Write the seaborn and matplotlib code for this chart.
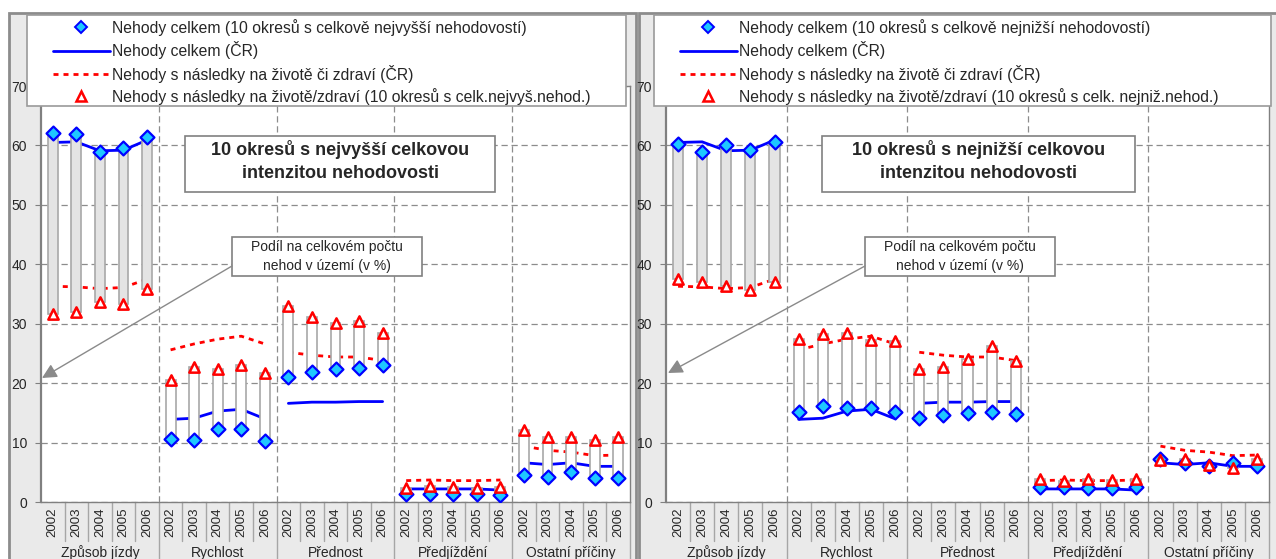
import numpy as np
import pandas as pd
import matplotlib
matplotlib.use("Agg")
import matplotlib.pyplot as plt
import seaborn as sns
from matplotlib.patches import Rectangle, FancyArrowPatch
from matplotlib.lines import Line2D
from matplotlib.transforms import blended_transform_factory

# --- data (podíl na celkovém počtu nehod v území, %) ---
years = ["2002", "2003", "2004", "2005", "2006"]
groups = ["Způsob jízdy", "Rychlost", "Přednost", "Předjíždění", "Ostatní příčiny"]

# ČR - same in both panels
cr_total = [60.5, 60.6, 59.1, 59.2, 60.9,
            13.9, 14.1, 15.3, 15.6, 14.0,
            16.6, 16.8, 16.8, 16.9, 16.9,
            2.2, 2.2, 2.2, 2.2, 2.0,
            6.6, 6.3, 6.6, 6.0, 6.0]
cr_injury = [36.3, 36.2, 35.9, 36.1, 37.5,
             25.6, 26.6, 27.4, 27.9, 26.6,
             25.2, 24.7, 24.4, 24.4, 23.8,
             3.6, 3.7, 3.6, 3.6, 3.7,
             9.4, 8.7, 8.4, 7.8, 7.9]

# 10 okresů s nejvyšší intenzitou
high_total = [62.1, 62.0, 58.9, 59.5, 61.4,
              10.6, 10.4, 12.3, 12.3, 10.3,
              21.1, 21.9, 22.4, 22.6, 23.0,
              1.3, 1.4, 1.4, 1.3, 1.1,
              4.6, 4.2, 5.0, 4.1, 4.1]
high_injury = [31.7, 31.9, 33.6, 33.3, 35.9,
               20.5, 22.7, 22.3, 23.0, 21.7,
               33.0, 31.2, 30.1, 30.5, 28.4,
               2.3, 2.7, 2.5, 2.3, 2.6,
               12.1, 10.9, 11.0, 10.4, 11.0]

# 10 okresů s nejnižší intenzitou
low_total = [60.2, 58.9, 60.0, 59.2, 60.5,
             15.2, 16.2, 15.8, 15.8, 15.2,
             14.1, 14.6, 14.9, 15.2, 14.8,
             2.6, 2.5, 2.3, 2.4, 2.5,
             7.2, 6.6, 6.0, 6.5, 6.1]
low_injury = [37.5, 37.0, 36.4, 35.6, 37.1,
              27.5, 28.2, 28.5, 27.3, 27.1,
              22.4, 22.8, 24.0, 26.3, 23.7,
              3.9, 3.6, 3.8, 3.7, 3.9,
              7.1, 7.2, 6.2, 5.7, 7.2]

labels_high = ["Nehody celkem (10 okresů s celkově nejvyšší nehodovostí)",
               "Nehody celkem (ČR)",
               "Nehody s následky na životě či zdraví (ČR)",
               "Nehody s následky na životě/zdraví (10 okresů s celk.nejvyš.nehod.)"]
labels_low = ["Nehody celkem (10 okresů s celkově nejnižší nehodovostí)",
              "Nehody celkem (ČR)",
              "Nehody s následky na životě či zdraví (ČR)",
              "Nehody s následky na životě/zdraví (10 okresů s celk. nejniž.nehod.)"]

sns.set_style("white")
plt.rcParams["font.family"] = ["Liberation Sans", "DejaVu Sans"]

W, H = 1276, 559
fig = plt.figure(figsize=(W / 100, H / 100), dpi=100)
fig.patch.set_facecolor("white")


def frac(x0, y0, x1, y1):
    # pixel box (top-left origin) -> figure fraction [l, b, w, h]
    return [x0 / W, 1 - y1 / H, (x1 - x0) / W, (y1 - y0) / H]


def fig_rect(x0, y0, x1, y1, fc, ec, lw, z):
    l, b, w, h = frac(x0, y0, x1, y1)
    fig.patches.append(Rectangle((l, b), w, h, transform=fig.transFigure,
                                 facecolor=fc, edgecolor=ec, lw=lw, zorder=z))


blue = "#0000ff"
red = "#ff0000"
cyan = "#1ec8ff"
dash_red = (0, (1.8, 1.8))
grid_ls = (0, (5, 3))


def draw_panel(ax, totals, injuries):
    df = pd.DataFrame({
        "pos": np.arange(25),
        "group": np.repeat(groups, 5),
        "cr_total": cr_total,
        "cr_injury": cr_injury,
        "total": totals,
        "injury": injuries,
    })
    ax.set_facecolor("white")
    ax.set_xlim(-0.5, 24.5)
    ax.set_ylim(0, 70)
    ax.set_yticks(range(0, 71, 10))
    ax.yaxis.grid(True, color="#8c8c8c", linestyle=grid_ls, lw=0.9)
    for s in [4.5, 9.5, 14.5, 19.5]:
        ax.axvline(s, color="#8c8c8c", linestyle=grid_ls, lw=0.9, zorder=1)
    ax.set_axisbelow(True)

    sns.lineplot(data=df, x="pos", y="cr_total", units="group", estimator=None,
                 color=blue, lw=2, ax=ax, zorder=2, legend=False)
    sns.lineplot(data=df, x="pos", y="cr_injury", units="group", estimator=None,
                 color=red, lw=2, linestyle=dash_red, ax=ax, zorder=2, legend=False)

    lo = df[["total", "injury"]].min(axis=1)
    hi = df[["total", "injury"]].max(axis=1)
    fills = np.where(df["total"] > df["injury"], "#e4e4e4", "white")
    ax.bar(df["pos"], hi - lo, bottom=lo, width=0.42, color=fills,
           edgecolor="#a8a8a8", lw=1.2, zorder=3)

    sns.scatterplot(data=df, x="pos", y="total", marker="D", s=50, color=cyan,
                    edgecolor=blue, linewidth=1.6, ax=ax, zorder=4, legend=False)
    sns.scatterplot(data=df, x="pos", y="injury", marker="^", s=55, color="white",
                    edgecolor=red, linewidth=1.8, ax=ax, zorder=5, legend=False)

    ax.set_xlabel("")
    ax.set_ylabel("")
    ax.set_xticks(range(25))
    ax.set_xticklabels(years * 5, rotation=90, fontsize=9.5)
    ax.tick_params(axis="x", length=0, pad=4)
    ax.tick_params(axis="y", left=True, length=4, color="#808080", labelsize=10, pad=6)
    for sp in ax.spines.values():
        sp.set_color("#808080")
        sp.set_linewidth(1)
    ax.spines["left"].set_linewidth(1.6)

    trans = blended_transform_factory(ax.transData, ax.transAxes)
    for i, g in enumerate(groups):
        ax.text(i * 5 + 2, -0.122, g, transform=trans, ha="center", va="center", fontsize=10)
    for k in range(1, 26):
        bottom = -0.2 if k % 5 == 0 else -0.094
        ax.plot([k - 0.5, k - 0.5], [0, bottom], transform=trans, color="#a6a6a6",
                lw=1, clip_on=False, zorder=1)


# panel frames
fig_rect(9, 13, 636, 600, "#eaeaea", "#8c8c8c", 2, -1)
fig_rect(639, 13, 1290, 600, "#eaeaea", "#8c8c8c", 2, -1)

ax1 = fig.add_axes(frac(41, 86, 630, 502))
ax2 = fig.add_axes(frac(666, 86, 1269, 502))
draw_panel(ax1, high_total, high_injury)
draw_panel(ax2, low_total, low_injury)

handles = [
    Line2D([], [], ls="none", marker="D", markersize=6, mfc=cyan, mec=blue, mew=1.4),
    Line2D([], [], color=blue, lw=2),
    Line2D([], [], color=red, lw=2, linestyle=dash_red),
    Line2D([], [], ls="none", marker="^", markersize=7, mfc="white", mec=red, mew=1.8),
]


def panel_extras(x0, x1, labels, title, tbox, abox, tip):
    fig_rect(x0, 15, x1, 106, "white", "#9a9a9a", 1.2, 1)
    leg = fig.legend(handles, labels, loc="upper left",
                     bbox_to_anchor=((x0 + 26) / W, 1 - 19 / H),
                     frameon=False, fontsize=11.3, handlelength=3.6, handletextpad=0.15,
                     labelspacing=0.34, borderpad=0, borderaxespad=0)
    leg.set_zorder(5)
    # title box
    fig_rect(*tbox, "white", "#808080", 1.2, 1)
    fig.text((tbox[0] + tbox[2]) / 2 / W, 1 - 161 / H, title,
             ha="center", va="center", fontsize=13, fontweight="bold",
             linespacing=1.5, zorder=6)
    # note box with arrow
    fig_rect(*abox, "white", "#808080", 1.2, 1)
    fig.text((abox[0] + abox[2]) / 2 / W, 1 - (abox[1] + abox[3]) / 2 / H,
             "Podíl na celkovém počtu\nnehod v území (v %)",
             ha="center", va="center", fontsize=10, linespacing=1.45, zorder=6)
    arr = FancyArrowPatch((abox[0] / W, 1 - 266 / H), (tip[0] / W, 1 - tip[1] / H),
                          transform=fig.transFigure, arrowstyle="-|>", mutation_scale=22,
                          color="#8a8a8a", lw=1, zorder=2, shrinkA=0, shrinkB=0)
    fig.patches.append(arr)


panel_extras(27, 626, labels_high, "10 okresů s nejvyšší celkovou\nintenzitou nehodovosti",
             (185, 136, 495, 192), (232, 237, 422, 276), (42, 378))
panel_extras(654, 1271, labels_low, "10 okresů s nejnižší celkovou\nintenzitou nehodovosti",
             (822, 136, 1135, 192), (865, 237, 1055, 276), (668, 373))

fig.savefig("out.png", dpi=100)
